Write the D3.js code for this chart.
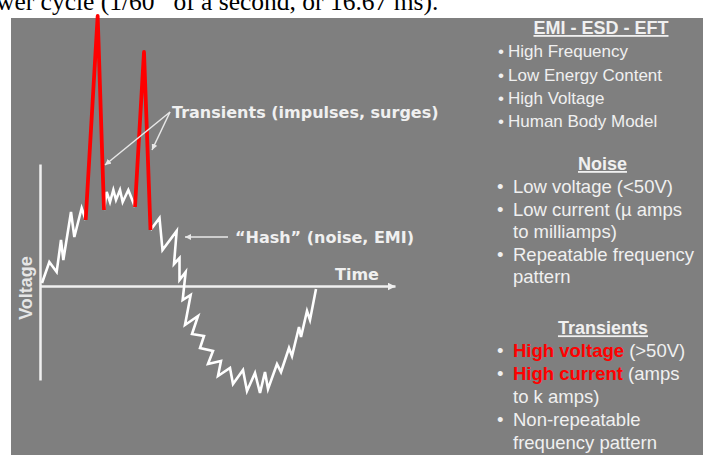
<!DOCTYPE html>
<html>
<head>
<meta charset="utf-8">
<script src="https://cdn.jsdelivr.net/npm/d3@7"></script>
<style>
  body { margin:0; background:#fff; }
  svg { display:block; }
  text { white-space: pre; }
</style>
</head>
<body>
<svg id="chart" width="703" height="455"></svg>
<script>
// waveform vertices: [time in ms, voltage]
const hashRise = [[0.12,3],[0.56,24],[1.0,14],[1.26,46],[1.4,26],[1.86,74],[2.06,49],[2.5,78],[2.74,66]];
const hashTop = [[3.84,76],[4.0,94],[4.2,84],[4.4,96],[4.56,86],[4.8,96],[4.96,84],[5.3,96],[5.7,79]];
const hashFall = [[6.63,56],[7.17,68],[7.35,36],[8.2,55],[8.04,22],[8.37,28],[8.37,6],[8.74,14],[8.56,-14],
  [9.04,-9],[8.7,-39],[9.48,-30],[9.12,-48],[9.84,-50],[9.6,-62],[10.38,-65],[10.08,-78],[10.86,-75],
  [10.68,-90],[11.4,-82],[11.58,-98],[12.18,-84],[12.42,-105],[12.9,-87],[13.2,-107],[13.5,-86],
  [13.68,-103],[14.22,-78],[14.46,-86],[14.94,-62],[15.12,-70],[15.54,-41],[15.66,-51],[16.02,-25],
  [16.2,-34],[16.56,-3]];
const spikeOne = [[2.74,66],[3.46,270],[3.84,76]];
const spikeTwo = [[5.7,79],[6.24,234],[6.63,56]];

const timeDomain = [0, 21.3];
const voltDomain = [-94, 270];
const voltAxis = [-94, 122];

// annotation anchors (ms, V)
const transFrom = [7.8, 174];
const transTips = [[3.9, 121], [6.72, 136]];
const hashFrom = [11.28, 49];
const hashTip = [8.7, 49];

const emiTitle = 'EMI - ESD - EFT';
const emiItems = ['High Frequency', 'Low Energy Content', 'High Voltage', 'Human Body Model'];
const noiseTitle = 'Noise';
const noiseItems = [['Low voltage (<50V)'], ['Low current (\u00b5 amps', 'to milliamps)'], ['Repeatable frequency', 'pattern']];
const transTitle = 'Transients';
const transLead = ['High voltage', 'High current', ''];
const transItems = [[' (>50V)'], [' (amps', 'to k amps)'], ['Non-repeatable', 'frequency pattern']];

const svg = d3.select('#chart');
const light = '#f0f0f0';

// caption cut off above the slide
svg.append('text')
  .attr('x', -4).attr('y', 10)
  .attr('font-family', 'Liberation Serif').attr('font-size', 25.5).attr('fill', '#000')
  .call(t => {
    t.append('tspan').text('wer cycle (1/60');
    t.append('tspan').attr('font-size', 16).attr('dy', -10).text('th');
    t.append('tspan').attr('dy', 10).text(' of a second, or 16.67 ms).');
  });

svg.append('rect').attr('x', 11).attr('y', 18).attr('width', 692).attr('height', 437).attr('fill', '#7f7f7f');

const x = d3.scaleLinear().domain(timeDomain).range([40, 395]);
const y = d3.scaleLinear().domain(voltDomain).range([380, 16]);
const yAx = d3.scaleLinear().domain(voltAxis).range([y(voltAxis[0]), y(voltAxis[1])]);

const defs = svg.append('defs');
defs.append('marker')
  .attr('id', 'axisHead').attr('viewBox', '0 -5 10 10')
  .attr('refX', 10).attr('refY', 0).attr('markerWidth', 3.2).attr('markerHeight', 3.2)
  .attr('markerUnits', 'strokeWidth').attr('orient', 'auto')
  .append('path').attr('d', 'M0,-5L10,0L0,5Z').attr('fill', light);
defs.append('marker')
  .attr('id', 'noteHead').attr('viewBox', '0 -5 10 10')
  .attr('refX', 10).attr('refY', 0).attr('markerWidth', 6).attr('markerHeight', 6)
  .attr('markerUnits', 'userSpaceOnUse').attr('orient', 'auto')
  .append('path').attr('d', 'M0,-5L10,0L0,5Z').attr('fill', '#e8e8e8');

// axes: domain lines only
const gy = svg.append('g').attr('transform', `translate(${x(0)},0)`)
  .call(d3.axisLeft(yAx).ticks(0).tickSizeOuter(0));
const gx = svg.append('g').attr('transform', `translate(0,${y(0)})`)
  .call(d3.axisBottom(x).ticks(0).tickSizeOuter(0));
[gx, gy].forEach(g => g.select('.domain').attr('stroke', light).attr('stroke-width', 2.5));
gx.select('.domain').attr('marker-end', 'url(#axisHead)');

const line = d3.line().x(d => x(d[0])).y(d => y(d[1]));

svg.append('g').selectAll('path')
  .data([hashRise, hashTop, hashFall]).enter().append('path')
  .attr('d', line).attr('fill', 'none')
  .attr('stroke', '#fff').attr('stroke-width', 2.6).attr('stroke-linejoin', 'miter');

svg.append('g').selectAll('path')
  .data([spikeOne, spikeTwo]).enter().append('path')
  .attr('d', line).attr('fill', 'none')
  .attr('stroke', '#ff0000').attr('stroke-width', 3.8).attr('stroke-linejoin', 'round');

// annotations
const notes = svg.append('g').attr('stroke', '#e8e8e8').attr('stroke-width', 1.5);
transTips.forEach(p => {
  notes.append('line')
    .attr('x1', x(transFrom[0])).attr('y1', y(transFrom[1]))
    .attr('x2', x(p[0])).attr('y2', y(p[1]))
    .attr('marker-end', 'url(#noteHead)');
});
notes.append('line')
  .attr('x1', x(hashFrom[0])).attr('y1', y(hashFrom[1]))
  .attr('x2', x(hashTip[0])).attr('y2', y(hashTip[1]))
  .attr('marker-end', 'url(#noteHead)');

const bold = svg.append('g')
  .attr('font-family', 'DejaVu Sans').attr('font-weight', 'bold').attr('font-size', 16).attr('fill', light);
bold.append('text').attr('x', 172).attr('y', 118).text('Transients (impulses, surges)');
bold.append('text').attr('x', 235).attr('y', 243).text('\u201cHash\u201d (noise, EMI)');
bold.append('text').attr('x', 335).attr('y', 280).text('Time');

svg.append('text')
  .attr('transform', 'translate(32,288) rotate(-90)')
  .attr('text-anchor', 'middle')
  .attr('font-family', 'Liberation Sans').attr('font-weight', 'bold').attr('font-size', 18)
  .attr('fill', '#e6e6e6').text('Voltage');

// right hand notes
const side = svg.append('g').attr('font-family', 'Liberation Sans').attr('fill', light);

function title(txt, cx, by){
  side.append('text').attr('x', cx).attr('y', by).attr('text-anchor', 'middle')
    .attr('font-weight', 'bold').attr('font-size', 18)
    .style('text-decoration', 'underline').text(txt);
}

title(emiTitle, 601, 34);
emiItems.forEach((s, i) => {
  const by = 57.3 + i * 23.2;
  side.append('text').attr('x', 498).attr('y', by).attr('font-size', 17).text('\u2022');
  side.append('text').attr('x', 508).attr('y', by).attr('font-size', 17).text(s);
});

title(noiseTitle, 602.5, 170);
let row = 0;
noiseItems.forEach(lines => {
  lines.forEach((s, k) => {
    const by = 193.3 + row * 22.5;
    if (k === 0) side.append('text').attr('x', 497).attr('y', by).attr('font-size', 18.5).text('\u2022');
    side.append('text').attr('x', 513).attr('y', by).attr('font-size', 18.5).text(s);
    row++;
  });
});

title(transTitle, 603, 334.3);
row = 0;
transItems.forEach((lines, i) => {
  lines.forEach((s, k) => {
    const by = 356.7 + row * 23;
    if (k === 0) side.append('text').attr('x', 497).attr('y', by).attr('font-size', 18.5).text('\u2022');
    const t = side.append('text').attr('x', 513).attr('y', by).attr('font-size', 18.5);
    if (k === 0 && transLead[i]) {
      t.append('tspan').attr('fill', '#ff0000').attr('font-weight', 'bold').text(transLead[i]);
    }
    t.append('tspan').text(s);
    row++;
  });
});
</script>
</body>
</html>
